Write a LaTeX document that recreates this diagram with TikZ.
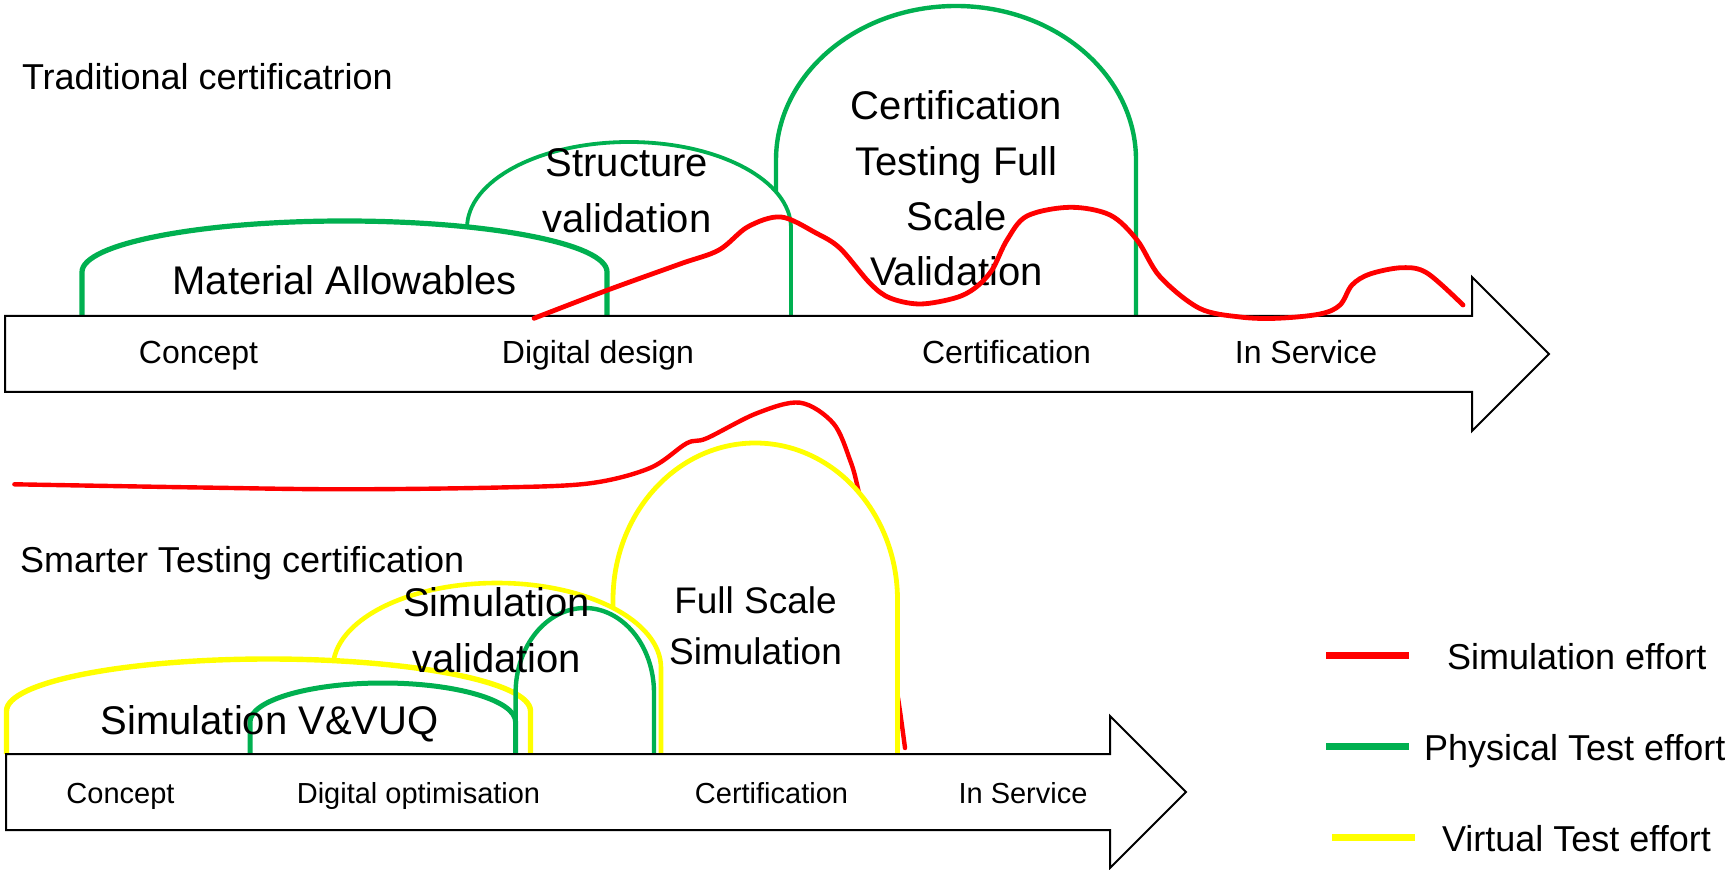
\documentclass[tikz,border=0pt]{standalone}
\usepackage{fontspec}
\setmainfont{Liberation Sans}
\definecolor{pgreen}{HTML}{00B050}
\definecolor{vyellow}{HTML}{FFFF00}
\definecolor{sred}{HTML}{FF0000}
\tikzset{
  gline/.style={draw=pgreen, line width=#1}, gline/.default=2pt,
  yline/.style={draw=vyellow, line width=#1}, yline/.default=2.2pt,
  rline/.style={draw=sred, line width=#1, line cap=round, line join=round}, rline/.default=2pt,
  bigarrow/.style={draw=black, fill=white, line width=1pt, line join=miter},
  txt/.style={inner sep=0pt, outer sep=0pt, text=black},
  big/.style={txt, font=\fontsize{20}{27.6}\selectfont},
  title/.style={txt, font=\fontsize{18}{21}\selectfont, anchor=base west},
  toplbl/.style={txt, font=\fontsize{16}{19}\selectfont, anchor=base},
  botlbl/.style={txt, font=\fontsize{14.5}{17}\selectfont, anchor=base},
  legtxt/.style={txt, font=\fontsize{18}{21}\selectfont, anchor=base west},
}
% arch: #1 style, #2 x left, #3 x right, #4 base y, #5 y where the round top starts, #6 height of round top
\newcommand\archshape[6]{%
  \pgfmathsetmacro\archcx{(#2+#3)/2}%
  \pgfmathsetmacro\archrx{(#3-#2)/2}%
  \pgfmathsetmacro\archtop{#5-#6}%
  \pgfmathsetmacro\archcy{#5-0.5523*#6}%
  \pgfmathsetmacro\archL{\archcx-0.5523*\archrx}%
  \pgfmathsetmacro\archR{\archcx+0.5523*\archrx}%
  \fill[white] (#2,#4) -- (#2,#5) .. controls (#2,\archcy) and (\archL,\archtop) .. (\archcx,\archtop) .. controls (\archR,\archtop) and (#3,\archcy) .. (#3,#5) -- (#3,#4) -- cycle;
  \draw[#1] (#2,#4) -- (#2,#5) .. controls (#2,\archcy) and (\archL,\archtop) .. (\archcx,\archtop) .. controls (\archR,\archtop) and (#3,\archcy) .. (#3,#5) -- (#3,#4);
}
\newcommand\archline[6]{%
  \pgfmathsetmacro\archcx{(#2+#3)/2}%
  \pgfmathsetmacro\archrx{(#3-#2)/2}%
  \pgfmathsetmacro\archtop{#5-#6}%
  \pgfmathsetmacro\archcy{#5-0.5523*#6}%
  \pgfmathsetmacro\archL{\archcx-0.5523*\archrx}%
  \pgfmathsetmacro\archR{\archcx+0.5523*\archrx}%
  \draw[#1] (#2,#4) -- (#2,#5) .. controls (#2,\archcy) and (\archL,\archtop) .. (\archcx,\archtop) .. controls (\archR,\archtop) and (#3,\archcy) .. (#3,#5) -- (#3,#4);
}
\begin{document}
\begin{tikzpicture}[x=0.5pt,y=-0.5pt]
\useasboundingbox (0,0) rectangle (1727,870);

% ---------------- traditional certification ----------------
\archshape{gline=2.2pt}{776}{1136}{316}{160}{154}
\archshape{gline=1.9pt}{467}{791}{316}{228}{86}
\archshape{gline=2.6pt}{82}{607}{316}{272}{51}

\draw[bigarrow] (5,316) -- (1472,316) -- (1472,277) -- (1549,354) -- (1472,431) -- (1472,392) -- (5,392) -- cycle;

\node[title] (trad) at (22,89.3) {Traditional certificatrion};
\node[big, anchor=base] (matall) at (344.8,295) {Material Allowables};
\node[big, align=center, anchor=north] (strval) at (627,149) {Structure\\validation};
\node[big, align=center, anchor=north] (certtest) at (956.5,91) {Certification\\Testing Full\\Scale\\Validation};

\node[toplbl] (c1) at (198.5,364) {Concept};
\node[toplbl] (d1) at (598,364) {Digital design};
\node[toplbl] (ce1) at (1006.5,364) {Certification};
\node[toplbl] (s1) at (1306,364) {In Service};

\draw[rline=2.4pt] plot[smooth, tension=0.55] coordinates {
 (534,318.3) (607.8,290) (680,264) (719,250) (748,226.7) (781,217) (816,233) (840,248.3)
 (870,283.3) (890,298) (920,304) (955,298) (975,288) (992,270) (1007,240) (1027,216)
 (1070,207.3) (1110,215) (1137,240) (1160,276.7) (1199.4,308.3) (1240,317) (1277,318.3)
 (1320,314) (1340,305) (1352,285) (1370,274) (1402,267.7) (1427,273) (1463,305)};

% ---------------- smarter testing certification ----------------
\draw[rline=2.2pt] plot[smooth, tension=0.55] coordinates {
 (14.4,484.3) (200,487.5) (344.4,489.3) (500,487.5) (590,483.3) (650,468) (686.7,443.3)
 (706.7,438.3) (756.7,413.3) (800,402.7) (833.3,423.3) (850,460) (858.3,490) (875,570)
 (888,640) (898.3,700) (905,748)};

\archshape{yline=2.4pt}{613}{897.5}{754}{600}{157}
\archshape{yline=2.3pt}{333}{661}{754}{668}{85}
\archshape{yline=2.7pt}{6.5}{530.5}{754}{711}{52}
\archline{gline=2.5pt}{250}{515.6}{754}{722}{39}
\archline{gline=2.2pt}{515.6}{654}{754}{693}{85}

\draw[bigarrow] (6,754) -- (1110,754) -- (1110,716) -- (1186,792) -- (1110,868) -- (1110,830) -- (6,830) -- cycle;

\node[title] (smart) at (20,572.7) {Smarter Testing certification};
\node[big, anchor=base] (vvuq) at (269.6,734) {Simulation V\&VUQ};
\node[big, align=center, anchor=north] (simval) at (496.5,587.5) {Simulation\\[0.6pt]validation};
\node[txt, font=\fontsize{18.5}{25.85}\selectfont, align=center, anchor=north] (fullsim) at (755.5,586.3) {Full Scale\\Simulation};

\node[botlbl] (c2) at (120.5,803) {Concept};
\node[botlbl] (d2) at (418.5,803) {Digital optimisation};
\node[botlbl] (ce2) at (771.5,803) {Certification};
\node[botlbl] (s2) at (1023,803) {In Service};

% ---------------- legend ----------------
\draw[draw=sred, line width=3.5pt] (1326,655) -- (1409,655);
\draw[draw=pgreen, line width=3.5pt] (1326,746.7) -- (1409,746.7);
\draw[draw=vyellow, line width=3.5pt] (1332,837.3) -- (1415,837.3);
\node[legtxt] (lsim) at (1447,669.3) {Simulation effort};
\node[legtxt] (lphy) at (1424,760) {Physical Test effort};
\node[legtxt] (lvir) at (1442,851.7) {Virtual Test effort};
\end{tikzpicture}
\end{document}
